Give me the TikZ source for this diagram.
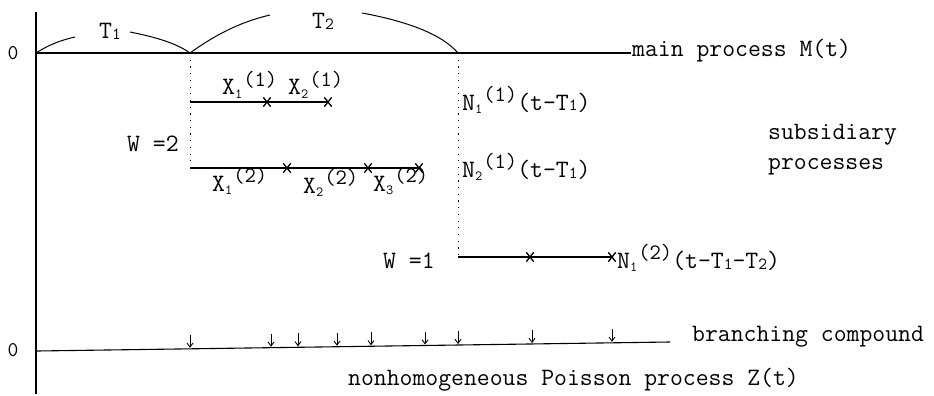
\documentclass[tikz,border=0pt]{standalone}
\usepackage{fontspec}
\usetikzlibrary{shapes.misc,arrows.meta}
\newcommand\fs[1]{\fontsize{#1}{#1}\selectfont}
\newcommand\lbl[3]{#1\raisebox{-3pt}{\fs{14}#2}\hspace{1pt}\raisebox{9pt}{\fs{22}#3}}
\newcommand\Tsub[1]{T\raisebox{-1pt}{\fs{17}#1}}
\begin{document}
\begin{tikzpicture}[x=1pt,y=-1pt,
  txt/.style={inner sep=0pt, font=\ttfamily\fs{25}},
  zero/.style={inner sep=0pt, font=\ttfamily\fs{21}},
  ax/.style={line width=1.1pt},
  proc/.style={line width=1.1pt},
  arcline/.style={line width=1pt},
  dots/.style={line width=1pt, dash pattern=on 1.2pt off 5.5pt},
  mk/.style={cross out, draw, line width=1.3pt, minimum width=6pt, minimum height=8pt, inner sep=0pt},
  ev/.style={line width=0.9pt, -{Straight Barb[length=4pt,width=6pt]}}]
\useasboundingbox (0,0) rectangle (934,396);

% vertical axis
\coordinate (axtop) at (36,12);
\coordinate (axbot) at (36,394);
\draw[ax] (axtop) -- (axbot);

% zero labels
\node[zero] (z1) at (13,53) {0};
\node[zero] (z2) at (13,350) {0};

% main process
\coordinate (m0) at (36,53);
\coordinate (m1) at (190,53);
\coordinate (m2) at (458,53);
\coordinate (m3) at (631,53);
\draw[proc] (m0) -- (m3);
\node[txt, anchor=base west] (mainlbl) at (632,57) {main process M(t)};

% T arcs
\coordinate (t1a) at (75,37);
\coordinate (t1b) at (130,32);
\coordinate (t2a) at (270,15);
\coordinate (t2b) at (362,13);
\draw[arcline] (m0) .. controls (50,44) and (62,40) .. (t1a);
\draw[arcline] (t1b) .. controls (155,37) and (176,43) .. (m1);
\draw[arcline] (m1) .. controls (215,35) and (240,22) .. (t2a);
\draw[arcline] (t2b) .. controls (400,20) and (440,32) .. (m2);
\node[txt, anchor=base west] (T1) at (99,39) {\Tsub{1}};
\node[txt, anchor=base west] (T2) at (312,29) {\Tsub{2}};

% dotted verticals
\coordinate (d1) at (190,168);
\coordinate (d2) at (458,257);
\draw[dots] (m1) -- (d1);
\draw[dots] (m2) -- (d2);

% first subsidiary line (W=2, first)
\coordinate (s1) at (190,102);
\node[mk] (c11) at (267,102) {};
\node[mk] (c12) at (328,102) {};
\draw[proc] (s1) -- (c12.center);
\node[txt, anchor=base west] (x11) at (222,95) {\lbl{X}{1}{(1)}};
\node[txt, anchor=base west] (x12) at (288,95) {\lbl{X}{2}{(1)}};

% second subsidiary line
\node[mk] (c21) at (287,168) {};
\node[mk] (c22) at (368,168) {};
\node[mk] (c23) at (419,168) {};
\draw[proc] (d1) -- (c23.center);
\node[txt, anchor=base west] (x21) at (212,191) {\lbl{X}{1}{(2)}};
\node[txt, anchor=base west] (x22) at (303,193) {\lbl{X}{2}{(2)}};
\node[txt, anchor=base west] (x23) at (373,191) {\lbl{X}{3}{(2)}};

\node[txt, anchor=base west] (w2) at (127,151) {W =2};

% N labels
\node[txt, anchor=base west] (n11) at (462,110) {\lbl{N}{1}{(1)}(t-\Tsub{1})};
\node[txt, anchor=base west] (n21) at (462,177) {\lbl{N}{2}{(1)}(t-\Tsub{1})};

\node[txt, anchor=base west] (sub1) at (768,139) {subsidiary};
\node[txt, anchor=base west] (sub2) at (768,169) {processes};

% third line W=1
\node[mk] (c31) at (530,257) {};
\node[mk] (c32) at (612,257) {};
\draw[proc] (d2) -- (c32.center);
\node[txt, anchor=base west] (w1) at (383,268) {W =1};
\node[txt, anchor=base west] (n12) at (617,268) {\lbl{N}{1}{(2)}(t-\Tsub{1}-\Tsub{2})};

% bottom compound Poisson process
\coordinate (b0) at (37,351);
\coordinate (b1) at (670,342);
\draw[proc] (b0) -- (b1);
\foreach \x/\y [count=\i] in {190/348.8,271/347.7,298/347.3,337/346.7,371/346.3,425/345.5,458/345.0,532/344.0,612/342.8}{
  \coordinate (e\i) at (\x,\y-14);
  \coordinate (f\i) at (\x,\y-1);
  \draw[ev] (e\i) -- (f\i);
}
\node[txt, anchor=base west] (br) at (692,341) {branching compound};
\node[txt, anchor=base west] (po) at (348,385) {nonhomogeneous Poisson process Z(t)};
\end{tikzpicture}
\end{document}
